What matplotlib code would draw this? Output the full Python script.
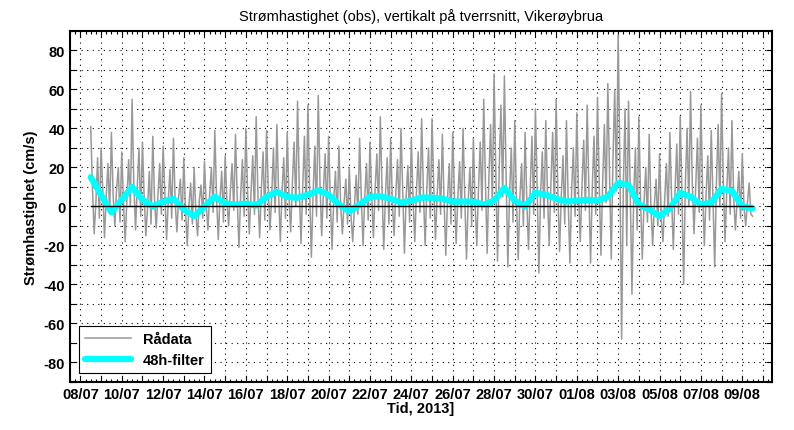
import numpy as np
import pandas as pd
import matplotlib
matplotlib.use('Agg')
import matplotlib.pyplot as plt
import matplotlib.dates as mdates
from matplotlib.ticker import MultipleLocator, FuncFormatter

plt.rcParams['font.family'] = ['Liberation Sans', 'DejaVu Sans']

# raw current speed (cm/s), one value every 2 hours from 08/07 12:00
raw = [
    41, 10, -14, 2, 25, -6, 30, 8, -16, 5, 22, -3,
    38, 6, -10, 9, 20, -8, 28, 2, -18, 4, 24, 0,
    55, 12, -12, 10, 30, -5, 33, 5, -15, 0, 18, -9,
    36, 4, -11, 6, 22, -4, 31, 7, -17, 3, 19, -6,
    35, 2, -13, 5, 14, -7, 25, -2, -20, 1, 12, -9,
    20, -4, -15, 3, 11, -6, 23, 1, -12, 6, 20, -3,
    39, 5, -17, 4, 18, -8, 26, 3, -10, 8, 22, -2,
    37, 4, -21, 6, 24, -5, 40, 8, -14, 7, 26, -4,
    46, 6, -16, 9, 28, -7, 39, 10, -12, 5, 30, -3,
    42, 7, -18, 8, 25, -6, 38, 5, -13, 12, 33, 0,
    54, 10, -19, 10, 36, -4, 52, 8, -26, 6, 31, -5,
    57, 12, -15, 8, 27, -6, 36, 3, -22, 4, 18, -8,
    31, 1, -14, 2, 14, -9, 20, -5, -18, 0, 16, -4,
    35, 4, -20, 5, 22, -7, 33, 6, -16, 9, 27, -2,
    46, 9, -22, 6, 25, -9, 35, 2, -15, 7, 24, -5,
    40, 7, -24, 5, 21, -8, 35, 4, -18, 8, 28, -3,
    45, 8, -20, 9, 30, -6, 45, 10, -17, 6, 24, -4,
    37, 3, -25, 4, 22, -9, 38, 6, -19, 5, 23, -6,
    40, 5, -27, 3, 20, -10, 35, 1, -20, 10, 33, -2,
    55, 12, -24, 15, 42, 0, 68, 18, -28, 20, 52, 5,
    67, 15, -31, 6, 30, -8, 44, 4, -27, 5, 22, -10,
    38, 2, -22, 10, 36, -4, 50, 10, -34, 6, 28, -6,
    44, 6, -20, 12, 38, -3, 55, 8, -23, 5, 26, -9,
    44, 3, -29, 8, 30, -5, 48, 7, -18, 10, 34, -2,
    52, 9, -29, 10, 36, -4, 56, 12, -25, 12, 42, 2,
    63, 16, -27, 25, 60, 8, 88, 22, -68, 10, 50, -20,
    54, 8, -45, 4, 30, -12, 46, 3, -27, 2, 20, -8,
    37, 0, -20, 1, 14, -10, 27, -6, -18, 4, 22, -5,
    38, 4, -22, 8, 32, -4, 46, 6, -40, 12, 40, 0,
    59, 12, -14, 10, 35, -3, 52, 7, -20, 6, 26, -7,
    39, 3, -31, 12, 42, 0, 58, 13, -18, 8, 30, -4,
    44, 5, -12, 3, 18, -6, 27, 0, -10, 2, 12, -4,
    -5,
]

# 48h low-pass filtered series, one value every 12 hours from 08/07 12:00
filt = [
    15, 6, -3, 3.5, 10, 3.5, 0, 2.5, 4, -1.5,
    -5, 0, 5, 1.5, 1, 1.5, 0.5, 5, 7.5, 5,
    4.5, 6, 8.3, 6, 1, -2.5, 1, 5, 5.2, 4,
    2, 3, 4.6, 4.5, 4, 2.5, 2.5, 2.5, 1, 3,
    9.5, 3, 0, 7, 6, 4, 2.6, 3, 3.4, 3,
    5, 12, 11, 1, -1.5, -5, -1, 7, 5, 1,
    2, 9, 8, 0, -1,
]

t_raw = pd.date_range('2013-07-08 12:00', periods=len(raw), freq='2h')
t_filt = pd.date_range('2013-07-08 12:00', periods=len(filt), freq='12h')

fig = plt.figure(figsize=(7.94, 4.31), dpi=100)
ax = fig.add_axes([0.0882, 0.1114, 0.8841, 0.8144])

ax.plot(t_raw, raw, color='#999999', lw=1.1, label='Rådata')
ax.plot(t_filt, filt, color='cyan', lw=4.5, solid_joinstyle='round',
        solid_capstyle='round', label='48h-filter')
ax.plot([t_raw[0], t_raw[-1]], [0, 0], color='black', lw=1)

ax.set_xlim(pd.Timestamp('2013-07-07 12:00'), pd.Timestamp('2013-08-10 10:30'))
ax.set_ylim(-90, 90)

ax.xaxis.set_major_locator(mdates.DayLocator())
ax.xaxis.set_minor_locator(mdates.HourLocator(byhour=[6, 12, 18]))


def xfmt(x, pos):
    d = mdates.num2date(x)
    n = (d.date() - pd.Timestamp('2013-07-08').date()).days
    return d.strftime('%d/%m') if n % 2 == 0 else ''


ax.xaxis.set_major_formatter(FuncFormatter(xfmt))
ax.yaxis.set_major_locator(MultipleLocator(10))
ax.yaxis.set_major_formatter(FuncFormatter(lambda v, p: '%d' % v if v % 20 == 0 else ''))

ax.grid(True, which='major', color='black', linestyle=(0, (1, 4)), lw=0.8)
ax.tick_params(which='both', direction='in', top=True, right=True,
               labelsize=10.5, width=0.8)
ax.tick_params(which='major', length=4)
ax.tick_params(which='minor', length=2)
for lab in ax.get_xticklabels() + ax.get_yticklabels():
    lab.set_fontweight('bold')
for s in ax.spines.values():
    s.set_linewidth(1.5)

ax.set_title('Strømhastighet (obs), vertikalt på tverrsnitt, Vikerøybrua',
             fontsize=10.5, pad=8)
ax.set_ylabel('Strømhastighet (cm/s)', fontsize=10.5, fontweight='bold')
ax.set_xlabel('Tid, 2013]', fontsize=10.5, fontweight='bold', labelpad=0)

leg = ax.legend(loc='lower left', fancybox=False, edgecolor='black',
                prop={'weight': 'bold', 'size': 10.5}, handlelength=3.2,
                borderaxespad=0.6, framealpha=1)
leg.get_frame().set_linewidth(0.8)

fig.savefig('out.png', dpi=100)
